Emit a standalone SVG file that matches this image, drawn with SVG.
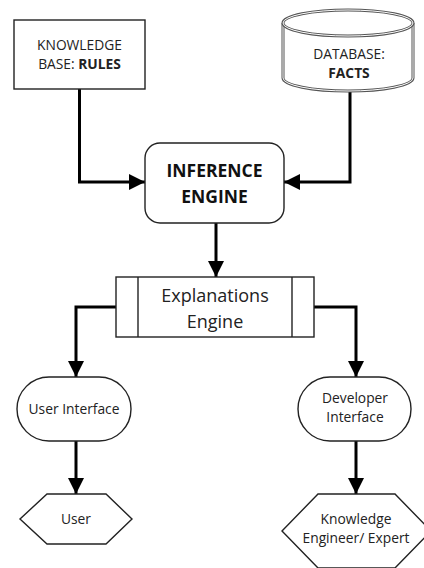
<svg xmlns="http://www.w3.org/2000/svg" width="424" height="568" viewBox="0 0 424 568">
  <style>
    .box { fill: #fff; stroke: #222; stroke-width: 1.4; }
    .wire { fill: none; stroke: #000; stroke-width: 3; marker-end: url(#arrow); }
    text { font-family: "Open Sans", "Noto Sans", sans-serif; fill: #222; text-anchor: middle; }
    .sm { font-size: 13.8px; }
    .md { font-size: 18px; }
    .big { font-size: 17.5px; font-weight: bold; fill: #111; }
    .b { font-weight: bold; }
  </style>
  <defs>
    <marker id="arrow" markerUnits="userSpaceOnUse" markerWidth="18" markerHeight="18" refX="16" refY="8" orient="auto">
      <path d="M0,0 L16,8 L0,16 Z" fill="#000"/>
    </marker>
  </defs>

  <g id="connectors">
    <polyline class="wire" points="79.5,89 79.5,182 145,182"/>
    <polyline class="wire" points="350,91 350,182 284,182"/>
    <polyline class="wire" points="216,223 216,277"/>
    <polyline class="wire" points="116,307 76,307 76,377"/>
    <polyline class="wire" points="314,307 356,307 356,377"/>
    <polyline class="wire" points="76,441 76,494"/>
    <polyline class="wire" points="356,441 356,494"/>
  </g>

  <g id="knowledge-base">
    <rect class="box" x="14" y="20" width="131" height="69"/>
    <text class="sm" x="79.5" y="50">KNOWLEDGE</text>
    <text class="sm" x="79.5" y="69">BASE: <tspan class="b">RULES</tspan></text>
  </g>

  <g id="database">
    <path d="M283,23 L283,78 A65,13 0 0 0 413,78 L413,23" fill="#fff" stroke="#555" stroke-width="3"/>
    <path d="M283,23 L283,78 A65,13 0 0 0 413,78 L413,23" fill="none" stroke="#fff" stroke-width="1"/>
    <ellipse cx="348" cy="23" rx="65" ry="13" fill="#fff" stroke="#555" stroke-width="3"/>
    <ellipse cx="348" cy="23" rx="65" ry="13" fill="none" stroke="#fff" stroke-width="1"/>
    <text class="sm" x="349" y="59">DATABASE:</text>
    <text class="sm b" x="349" y="78">FACTS</text>
  </g>

  <g id="inference-engine">
    <rect class="box" x="145" y="143" width="139" height="80" rx="15"/>
    <text class="big" x="214.5" y="177">INFERENCE</text>
    <text class="big" x="214.5" y="203">ENGINE</text>
  </g>

  <g id="explanations-engine">
    <rect class="box" x="116" y="277" width="198" height="60"/>
    <line x1="138" y1="277" x2="138" y2="337" stroke="#222" stroke-width="1.4"/>
    <line x1="292" y1="277" x2="292" y2="337" stroke="#222" stroke-width="1.4"/>
    <text class="md" x="215" y="302">Explanations</text>
    <text class="md" x="215" y="328">Engine</text>
  </g>

  <g id="user-interface">
    <rect class="box" x="17" y="377" width="114" height="64" rx="32"/>
    <text class="sm" x="74" y="414">User Interface</text>
  </g>

  <g id="developer-interface">
    <rect class="box" x="298" y="377" width="113" height="64" rx="32"/>
    <text class="sm" x="355" y="403">Developer</text>
    <text class="sm" x="355" y="422">Interface</text>
  </g>

  <g id="user">
    <polygon class="box" points="47,494 106,494 132,519 106,544 47,544 20,519"/>
    <text class="sm" x="76" y="524">User</text>
  </g>

  <g id="knowledge-engineer">
    <polygon class="box" points="318,494 395,494 431,531 395,568 318,568 282,531"/>
    <text class="sm" x="356" y="524">Knowledge</text>
    <text class="sm" x="356" y="543">Engineer/ Expert</text>
  </g>
</svg>
